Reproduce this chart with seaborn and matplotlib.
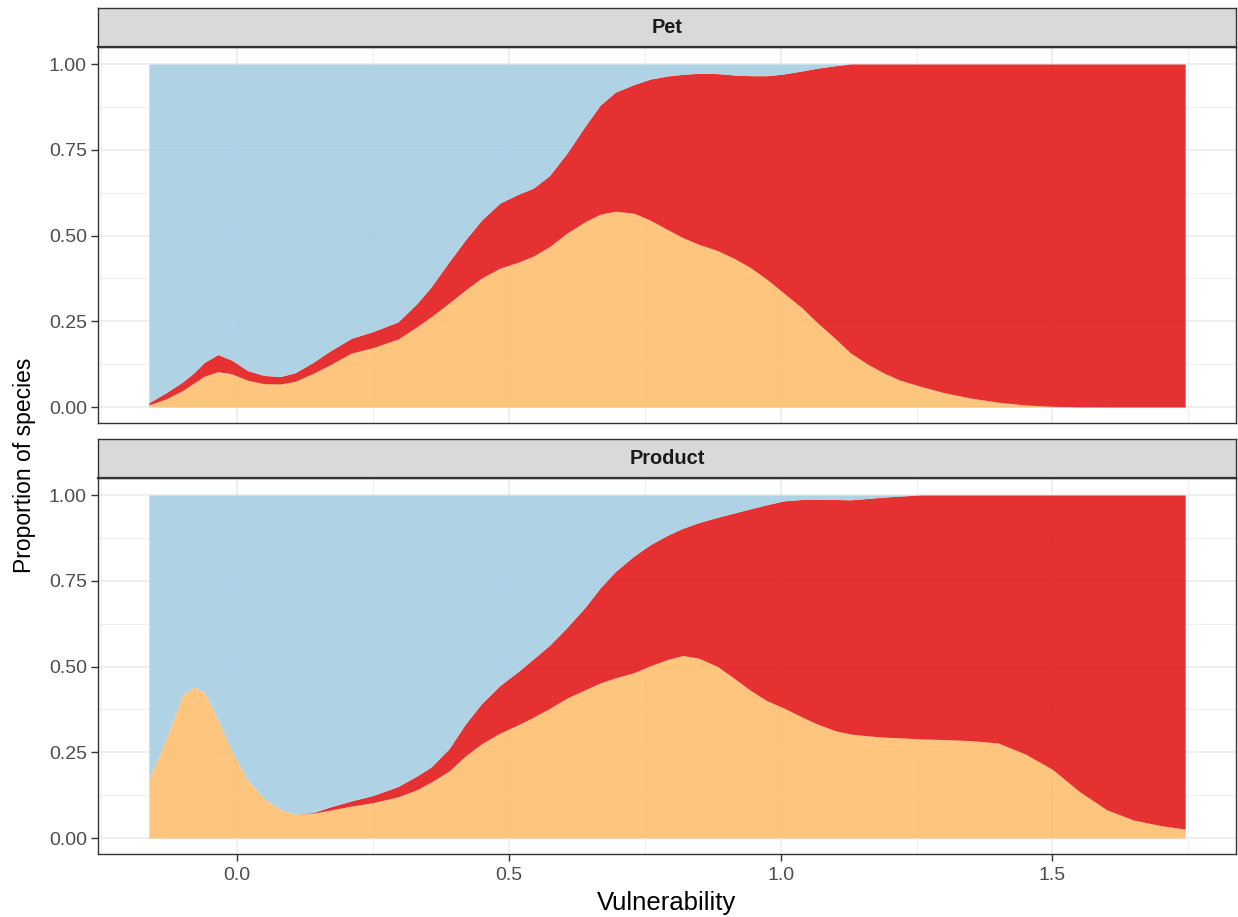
import numpy as np
import matplotlib
matplotlib.use("Agg")
import matplotlib.pyplot as plt
import seaborn as sns
from matplotlib.ticker import MultipleLocator

# ---- data (proportions) ----
panels = ["Pet", "Product"]
categories = ["orange", "red", "blue"]

vulnerability = [-0.162, -0.13, -0.10, -0.079, -0.06, -0.035, -0.01, 0.02, 0.05, 0.08,
                 0.107, 0.14, 0.17, 0.21, 0.25, 0.296, 0.33, 0.357, 0.39, 0.42,
                 0.45, 0.484, 0.517, 0.545, 0.575, 0.607, 0.64, 0.668, 0.696, 0.73,
                 0.76, 0.791, 0.82, 0.85, 0.884, 0.915, 0.945, 0.975, 1.006, 1.04,
                 1.068, 1.10, 1.129, 1.16, 1.19, 1.22, 1.258, 1.30, 1.35, 1.40,
                 1.45, 1.50, 1.55, 1.60, 1.65, 1.70, 1.744]

# cumulative boundary: orange share
pet_orange = [0.006, 0.024, 0.048, 0.070, 0.090, 0.103, 0.097, 0.078, 0.068, 0.067,
              0.075, 0.098, 0.122, 0.157, 0.173, 0.198, 0.233, 0.263, 0.303, 0.341,
              0.376, 0.405, 0.422, 0.440, 0.468, 0.507, 0.540, 0.562, 0.571, 0.565,
              0.545, 0.518, 0.494, 0.474, 0.456, 0.433, 0.406, 0.372, 0.332, 0.288,
              0.245, 0.200, 0.157, 0.125, 0.099, 0.078, 0.060, 0.042, 0.026, 0.014,
              0.006, 0.002, 0.0005, 0.0, 0.0, 0.0, 0.0]
# cumulative boundary: orange + red share
pet_red_top = [0.0125, 0.042, 0.073, 0.100, 0.130, 0.153, 0.137, 0.106, 0.092, 0.089,
               0.100, 0.130, 0.162, 0.200, 0.220, 0.248, 0.300, 0.350, 0.423, 0.487,
               0.545, 0.595, 0.620, 0.638, 0.675, 0.740, 0.818, 0.880, 0.918, 0.940,
               0.956, 0.965, 0.970, 0.973, 0.972, 0.968, 0.966, 0.966, 0.971, 0.980,
               0.988, 0.995, 1.0, 1.0, 1.0, 1.0, 1.0, 1.0, 1.0, 1.0,
               1.0, 1.0, 1.0, 1.0, 1.0, 1.0, 1.0]

product_orange = [0.171, 0.290, 0.417, 0.441, 0.425, 0.345, 0.255, 0.168, 0.115, 0.083,
                  0.070, 0.072, 0.081, 0.093, 0.103, 0.120, 0.140, 0.163, 0.195, 0.239,
                  0.275, 0.306, 0.330, 0.352, 0.378, 0.408, 0.432, 0.452, 0.467, 0.482,
                  0.502, 0.520, 0.532, 0.524, 0.500, 0.465, 0.430, 0.400, 0.379, 0.352,
                  0.332, 0.313, 0.303, 0.298, 0.294, 0.292, 0.289, 0.287, 0.284, 0.277,
                  0.245, 0.200, 0.135, 0.082, 0.052, 0.036, 0.026]
product_red_top = [0.171, 0.290, 0.417, 0.441, 0.425, 0.345, 0.255, 0.168, 0.115, 0.083,
                   0.070, 0.074, 0.090, 0.108, 0.124, 0.150, 0.180, 0.207, 0.260, 0.332,
                   0.392, 0.445, 0.485, 0.522, 0.562, 0.614, 0.672, 0.729, 0.777, 0.822,
                   0.855, 0.882, 0.903, 0.920, 0.935, 0.948, 0.960, 0.972, 0.983, 0.987,
                   0.988, 0.987, 0.986, 0.990, 0.994, 0.997, 1.0, 1.0, 1.0, 1.0,
                   1.0, 1.0, 1.0, 1.0, 1.0, 1.0, 1.0]

colors = {"orange": "#FDBF6F", "red": "#E31A1C", "blue": "#A6CEE3"}

# ---- style ----
sns.set_theme(style="whitegrid")
plt.rcParams["font.family"] = ["Liberation Sans", "DejaVu Sans"]

W, H = 1238, 917
fig = plt.figure(figsize=(W / 100, H / 100), dpi=100)

def fx(px):
    return px / W

def fy(py):
    return 1 - py / H

panel_boxes = [(47, 423, 8), (478, 854, 439)]  # (top, bottom, strip top) in px
data = {"Pet": (pet_orange, pet_red_top), "Product": (product_orange, product_red_top)}

x = np.array(vulnerability)
for i, (name, (ptop, pbot, stop)) in enumerate(zip(panels, panel_boxes)):
    ax = fig.add_axes([fx(98), fy(pbot), fx(1236) - fx(98), (pbot - ptop) / H])
    o = np.array(data[name][0])
    r = np.array(data[name][1])
    ax.fill_between(x, 0, o, color=colors["orange"], alpha=0.9, linewidth=0, zorder=2)
    ax.fill_between(x, o, r, color=colors["red"], alpha=0.9, linewidth=0, zorder=2)
    ax.fill_between(x, r, 1.0, color=colors["blue"], alpha=0.9, linewidth=0, zorder=2)

    ax.set_xlim(-0.2555, 1.8375)
    ax.set_ylim(-0.0466, 1.0496)
    ax.set_facecolor("white")
    ax.xaxis.set_major_locator(MultipleLocator(0.5))
    ax.xaxis.set_minor_locator(MultipleLocator(0.25))
    ax.yaxis.set_major_locator(MultipleLocator(0.25))
    ax.yaxis.set_minor_locator(MultipleLocator(0.125))
    ax.grid(which="major", color="#EBEBEB", linewidth=1.1, zorder=0)
    ax.grid(which="minor", color="#EBEBEB", linewidth=0.55, zorder=0)
    ax.set_axisbelow(True)
    for s in ax.spines.values():
        s.set_color("#333333")
        s.set_linewidth(1.0)
        s.set_visible(True)
    ax.tick_params(axis="both", which="major", length=5, width=1.0, color="#333333",
                   labelcolor="#4D4D4D", labelsize=14, direction="out")
    ax.tick_params(axis="both", which="minor", length=0)
    ax.tick_params(axis="y", left=True, pad=3)
    ax.set_yticks([0, 0.25, 0.5, 0.75, 1.0])
    ax.set_yticklabels(["0.00", "0.25", "0.50", "0.75", "1.00"])
    if i == 0:
        ax.tick_params(axis="x", bottom=False, labelbottom=False)
    else:
        ax.tick_params(axis="x", bottom=True, labelbottom=True, pad=4)
        ax.set_xticks([0.0, 0.5, 1.0, 1.5])
        ax.set_xticklabels(["0.0", "0.5", "1.0", "1.5"])

    # facet strip
    sax = fig.add_axes([fx(98), fy(ptop), fx(1236) - fx(98), (ptop - stop) / H])
    sax.set_facecolor("#D9D9D9")
    sax.set_xticks([])
    sax.set_yticks([])
    sax.grid(False)
    for s in sax.spines.values():
        s.set_color("#333333")
        s.set_linewidth(1.0)
        s.set_visible(True)
    sax.spines["bottom"].set_linewidth(1.6)
    sax.text(0.5, 0.5, name, ha="center", va="center", fontsize=14.4,
             fontweight="bold", color="#1A1A1A", transform=sax.transAxes)

fig.text(fx(25), fy(465), "Proportion of species", rotation=90, ha="center",
         va="center", fontsize=16.5, color="black")
fig.text(fx(667), fy(903), "Vulnerability", ha="center", va="center",
         fontsize=18.5, color="black")

fig.savefig("out.png", dpi=100)
